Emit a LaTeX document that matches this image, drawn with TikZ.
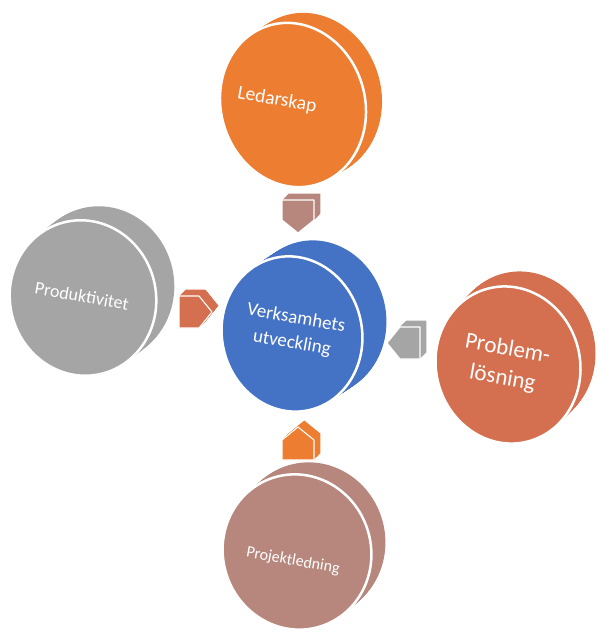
\documentclass[tikz,border=0pt]{standalone}
\usepackage{fontspec}
\setmainfont{Carlito}
\usetikzlibrary{calc}
\definecolor{cOrange}{HTML}{ED7D31}
\definecolor{cBlue}{HTML}{4472C4}
\definecolor{cGray}{HTML}{A5A5A5}
\definecolor{cRed}{HTML}{D4704F}
\definecolor{cRose}{HTML}{B7877D}
\tikzset{
  disclabel/.style={text=white, align=center, rotate=-10, inner sep=0pt},
  faceedge/.style={draw=white, line width=2.5pt},
  arrowedge/.style={draw=white, line width=1.1pt, line join=round}
}
% x y rx ry rot dx dy color
\newcommand\mydisc[8]{%
  \foreach \s in {20,19,...,1}{%
    \pgfmathsetmacro\dcx{#1+(#6)*\s/20}%
    \pgfmathsetmacro\dcy{#2+(#7)*\s/20}%
    \fill[#8, rotate around={#5:(\dcx,\dcy)}]
      (\dcx,\dcy) ellipse [x radius=#3, y radius=#4];
  }
  \fill[#8, faceedge, rotate around={#5:(#1,#2)}]
    (#1,#2) ellipse [x radius=#3, y radius=#4];
}
% x y angle color
\newcommand\myblockarrow[4]{%
  \foreach \s in {8,7,...,1}{%
    \pgfmathsetmacro\acx{#1+0.8*\s}%
    \pgfmathsetmacro\acy{#2-0.8*\s}%
    \begin{scope}[shift={(\acx,\acy)}, rotate=#3]
      \fill[#4] (-17,-16) -- (3,-16) -- (16,0) -- (3,16) -- (-17,16) -- cycle;
    \end{scope}
  }
  \begin{scope}[shift={(#1,#2)}, rotate=#3]
    \fill[#4, arrowedge] (-17,-16) -- (3,-16) -- (16,0) -- (3,16) -- (-17,16) -- cycle;
  \end{scope}
}
\begin{document}
\begin{tikzpicture}[x=1pt, y=-1pt]
\useasboundingbox (0,0) rectangle (598,633);
% discs
\mydisc{293}{105}{72}{83}{17}{16}{-10}{cOrange}
\mydisc{292}{334}{70}{78}{13}{24}{-16}{cBlue}
\mydisc{83}{298}{73}{78}{14}{18}{-14}{cGray}
\mydisc{508}{365}{72}{79}{15}{15}{-15}{cRed}
\mydisc{297}{552}{74}{78}{18}{14}{-12}{cRose}
% arrows
\myblockarrow{298}{217}{-90}{cRose}
\myblockarrow{196}{312}{0}{cRed}
\myblockarrow{403}{343}{180}{cGray}
\myblockarrow{298}{443}{90}{cOrange}
% labels
\node[disclabel, font=\fontsize{19.5}{22}\selectfont] (lead) at (277,100) {Ledarskap};
\node[disclabel, font=\fontsize{19}{25}\selectfont] (core) at (294,331) {Verksamhets\\utveckling};
\node[disclabel, font=\fontsize{18}{20}\selectfont] (prod) at (82,296) {Produktivitet};
\node[disclabel, font=\fontsize{23}{30}\selectfont] (prob) at (505,364) {Problem-\\lösning};
\node[disclabel, font=\fontsize{16}{18}\selectfont] (proj) at (293,561) {Projektledning};
\end{tikzpicture}
\end{document}
